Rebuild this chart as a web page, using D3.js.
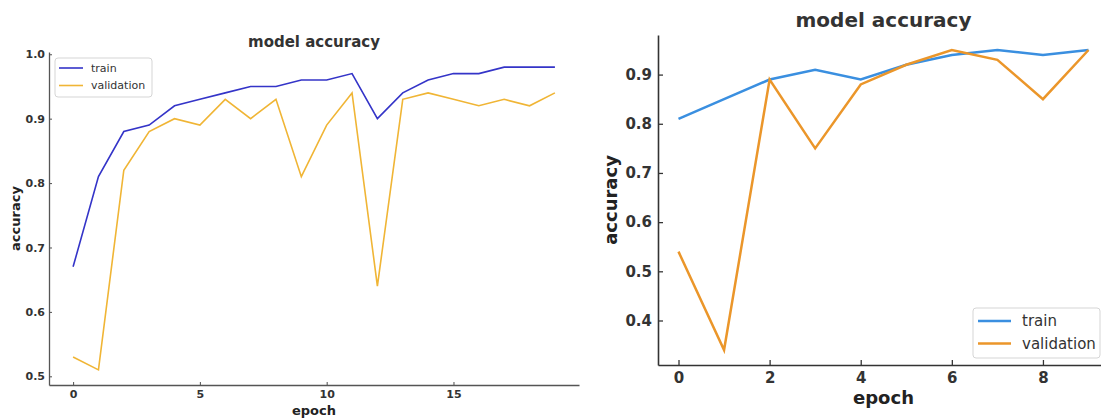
<!DOCTYPE html>
<html><head><meta charset="utf-8">
<script src="https://cdn.jsdelivr.net/npm/d3@7"></script>
<style>body{margin:0;background:#fff}svg{display:block}text{font-family:"DejaVu Sans",sans-serif}</style>
</head><body><svg id="c" width="1101" height="419"></svg>
<script>
// Left panel data
const leftEpochs = [0,1,2,3,4,5,6,7,8,9,10,11,12,13,14,15,16,17,18,19];
const leftTrain = [0.67,0.81,0.88,0.89,0.92,0.93,0.94,0.95,0.95,0.96,0.96,0.97,0.90,0.94,0.96,0.97,0.97,0.98,0.98,0.98];
const leftVal   = [0.53,0.51,0.82,0.88,0.90,0.89,0.93,0.90,0.93,0.81,0.89,0.94,0.64,0.93,0.94,0.93,0.92,0.93,0.92,0.94];
const leftXTicks = [0,5,10,15];
const leftYTicks = [0.5,0.6,0.7,0.8,0.9,1.0];
// Right panel data
const rightEpochs = [0,1,2,3,4,5,6,7,8,9];
const rightTrain = [0.81,0.85,0.89,0.91,0.89,0.92,0.94,0.95,0.94,0.95];
const rightVal   = [0.54,0.34,0.89,0.75,0.88,0.92,0.95,0.93,0.85,0.95];
const rightXTicks = [0,2,4,6,8];
const rightYTicks = [0.4,0.5,0.6,0.7,0.8,0.9];
const seriesNames = ["train","validation"];
const titleText = "model accuracy";

const svg = d3.select("#c");
svg.append("rect").attr("width",1101).attr("height",419).attr("fill","#fff");

function panel(o){
  const g = svg.append("g");
  const x = d3.scaleLinear().domain(o.xd).range([o.x0,o.x1]);
  const y = d3.scaleLinear().domain(o.yd).range([o.y1,o.y0]);
  const line = d3.line().x((d,i)=>x(o.epochs[i])).y(d=>y(d));
  [[o.train,o.c[0]],[o.val,o.c[1]]].forEach(([arr,col])=>{
    g.append("path").datum(arr).attr("d",line).attr("fill","none")
     .attr("stroke",col).attr("stroke-width",o.lw).attr("stroke-linejoin","miter");
  });
  const ax = g.append("g").attr("transform",`translate(0,${o.y1})`)
    .call(d3.axisBottom(x).tickValues(o.xt).tickFormat(d3.format("d")).tickSizeInner(-o.tk).tickSizeOuter(0).tickPadding(o.xpad));
  const ay = g.append("g").attr("transform",`translate(${o.x0},0)`)
    .call(d3.axisLeft(y).tickValues(o.yt).tickFormat(d3.format(".1f")).tickSizeInner(-o.tk).tickSizeOuter(0).tickPadding(o.ypad));
  [ax,ay].forEach(a=>{
    a.select(".domain").attr("stroke",o.sc).attr("stroke-width",o.sw);
    a.selectAll(".tick line").attr("stroke",o.sc).attr("stroke-width",o.sw*0.8);
    a.selectAll("text").attr("fill","#333").attr("font-weight","bold").attr("font-size",o.tf).attr("font-family","DejaVu Sans");
  });
  g.append("text").attr("x",(o.x0+o.x1)/2).attr("y",o.ty).attr("text-anchor","middle")
   .attr("font-size",o.tfs).attr("font-weight","bold").attr("fill","#333").text(titleText);
  g.append("text").attr("x",(o.x0+o.x1)/2).attr("y",o.xly).attr("text-anchor","middle")
   .attr("font-size",o.lf).attr("font-weight","bold").attr("fill","#222").text("epoch");
  g.append("text").attr("transform",`translate(${o.ylx},${(o.y0+o.y1)/2}) rotate(-90)`).attr("text-anchor","middle")
   .attr("font-size",o.lf).attr("font-weight","bold").attr("fill","#222").text("accuracy");
  const L = o.leg;
  g.append("rect").attr("x",L.x).attr("y",L.y).attr("width",L.w).attr("height",L.h).attr("rx",3)
   .attr("fill","#fff").attr("fill-opacity",0.85).attr("stroke","#d5d5d5").attr("stroke-width",1);
  seriesNames.forEach((n,i)=>{
    const yy = L.y + L.r0 + i*L.dy;
    g.append("line").attr("x1",L.x+L.l0).attr("x2",L.x+L.l1).attr("y1",yy).attr("y2",yy)
     .attr("stroke",o.c[i]).attr("stroke-width",o.lw);
    g.append("text").attr("x",L.x+L.t0).attr("y",yy).attr("dy","0.35em").attr("font-size",L.fs)
     .attr("fill","#333").text(n);
  });
}

panel({epochs:leftEpochs,train:leftTrain,val:leftVal,xt:leftXTicks,yt:leftYTicks,
  xd:[-0.95,19.95],yd:[0.4865,1.0035],x0:49,x1:579,y0:52,y1:385,
  c:["#3434c8","#f0b535"],lw:1.6,sc:"#555",sw:1.3,tk:3,xpad:5,ypad:4,tf:11,tfs:15,ty:47,lf:13,xly:415,ylx:20,
  leg:{x:55,y:58,w:97,h:39,r0:10,dy:17.5,l0:4,l1:28,t0:36,fs:11}});

panel({epochs:rightEpochs,train:rightTrain,val:rightVal,xt:rightXTicks,yt:rightYTicks,
  xd:[-0.45,9.45],yd:[0.3095,0.9805],x0:658,x1:1109,y0:35,y1:365,
  c:["#3a8fe0","#eb962a"],lw:2.5,sc:"#333",sw:1.6,tk:5,xpad:7,ypad:6,tf:15,tfs:20,ty:27,lf:18,xly:404,ylx:617,
  leg:{x:973,y:308,w:127,h:50,r0:13,dy:22.5,l0:5,l1:38,t0:49,fs:15}});
</script></body></html>
